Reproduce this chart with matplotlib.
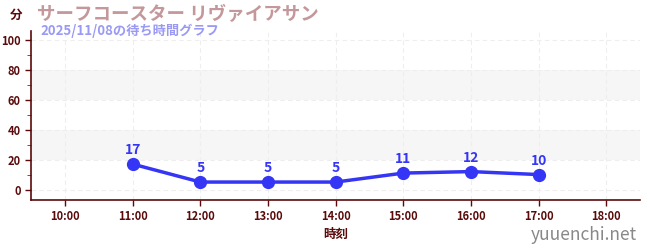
import matplotlib
matplotlib.use("Agg")
import matplotlib.pyplot as plt
from matplotlib.ticker import MultipleLocator

plt.rcParams['font.family'] = ['Noto Sans CJK JP', 'DejaVu Sans']

hours = [11, 12, 13, 14, 15, 16, 17]
waits = [17, 5, 5, 5, 11, 12, 10]
tick_hours = list(range(10, 19))
tick_labels = ["%d:00" % h for h in tick_hours]

title = "サーフコースター リヴァイアサン"
subtitle = "2025/11/08の待ち時間グラフ"

dark = "#5a0a0a"

fig = plt.figure(figsize=(6.5, 2.5), dpi=100)
ax = fig.add_axes([0.048, 0.2, 0.937, 0.676])

ax.set_xlim(9.5, 18.5)
ax.set_ylim(-7, 106)

# bands
for lo, hi in [(20, 40), (60, 80)]:
    ax.axhspan(lo, hi, color="#f6f6f6", zorder=0, lw=0)

ax.grid(True, color="#eeeeee", linestyle=(0, (4, 3)), lw=0.8, zorder=1)

ax.plot(hours, waits, color="#3535f5", lw=2.5, marker="o", ms=8.5, zorder=3)
for h, w in zip(hours, waits):
    ax.annotate(str(w), (h, w), xytext=(0, 5), textcoords="offset points",
                ha="center", va="bottom", color="#3535f5", fontsize=10,
                fontweight="bold")

ax.set_xticks(tick_hours)
ax.set_xticklabels(tick_labels)
ax.yaxis.set_major_locator(MultipleLocator(20))
ax.yaxis.set_minor_locator(MultipleLocator(10))
ax.tick_params(axis="both", colors=dark, labelsize=8, length=4, width=1)
ax.tick_params(axis="y", which="minor", color="#cc0000", length=3)
for lbl in ax.get_xticklabels() + ax.get_yticklabels():
    lbl.set_fontweight("bold")
    lbl.set_color(dark)

for s in ["top", "right"]:
    ax.spines[s].set_visible(False)
for s in ["left", "bottom"]:
    ax.spines[s].set_color(dark)
    ax.spines[s].set_linewidth(1.2)

ax.set_xlabel("時刻", color=dark, fontsize=9, fontweight="bold", labelpad=3)

fig.text(0.015, 0.94, "分", color=dark, fontsize=9, fontweight="bold", va="center")
fig.text(0.057, 0.94, title, color="#c4979a", fontsize=13.3, fontweight="bold", va="center")
fig.text(0.062, 0.876, subtitle, color="#9a9af5", fontsize=9.5, fontweight="bold", va="center")
fig.text(0.98, 0.06, "yuuenchi.net", color="#888888", fontsize=12.5, ha="right", va="center")

fig.savefig("out.png", dpi=100)
